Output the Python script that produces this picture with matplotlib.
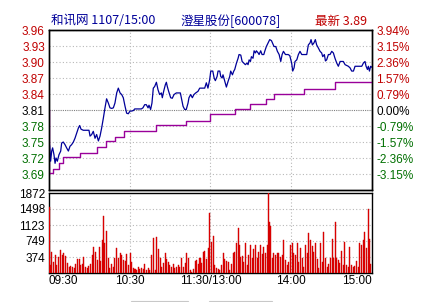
import matplotlib
matplotlib.use("Agg")
import matplotlib.pyplot as plt
from matplotlib.transforms import blended_transform_factory
from matplotlib.patches import Rectangle

# ---------------- data ----------------
prev_close = 3.81
last_price = 3.89
price_ticks = [3.69, 3.72, 3.75, 3.78, 3.81, 3.84, 3.87, 3.90, 3.93, 3.96]
pct_labels = ["-3.15%", "-2.36%", "-1.57%", "-0.79%", "0.00%", "0.79%", "1.57%", "2.36%", "3.15%", "3.94%"]
vol_ticks = [374, 749, 1123, 1498, 1872]
time_ticks = [0, 60, 120, 180, 240]
time_labels = ["09:30", "10:30", "11:30/13:00", "14:00", "15:00"]

price_minutes = [0, 0.5, 1.2, 2.0, 2.7, 3.7, 4.5, 5.2, 6.2, 7.4, 8.7, 9.4, 10.6, 11.9, 13.1, 14.4, 15.6,
                 16.8, 18.1, 19.3, 20.6, 21.8, 22.8, 23.8, 25.5, 28, 29.7, 30.5, 31.7, 32.9, 34.2, 35.4,
                 36.7, 37.9, 39.1, 40.4, 41.6, 42.8, 44.1, 45.3, 46.6, 47.8, 49, 50.3, 51.5, 52.8, 54,
                 55.2, 56.5, 57.7, 58.9, 60.2, 61.4, 62.7, 63.7, 66.1, 68.6, 69.8, 71.1, 72.3, 73.6, 74.3,
                 75.5, 76.5, 77.5, 78.5, 79.8, 81, 82.2, 83.5, 84.2, 85.2, 86.4, 87.2, 87.9, 88.9, 90.4,
                 91.6, 92.9, 94.6, 96.3, 97.6, 98.3, 99.6, 100.8, 102, 103.3, 104, 105.3, 106.5, 107.7,
                 109, 110.7, 112, 114.4, 115.7, 116.9, 118.1, 119.4, 120.2, 121.7, 122.7, 123.6, 124.9,
                 125.6, 126.9, 127.6, 128.6, 129.3, 130.6, 131.8, 133.1, 134.3, 135, 136.3, 137.3, 138,
                 139.3, 140.5, 141.2, 142.5, 143.5, 144.7, 145.9, 147.2, 147.9, 148.7, 149.7, 150.4,
                 151.6, 152.4, 153.4, 154.1, 155.4, 156.1, 157.3, 158.3, 159.6, 160.3, 161.5, 162.8,
                 164, 165.3, 166, 167.2, 168.5, 169.7, 171, 172.2, 173.2, 174.2, 175.7, 177.7, 178.9,
                 180.3, 181.1, 182.1, 182.8, 184.1, 185.3, 186.5, 187.8, 191.5, 192.7, 194, 194.7,
                 195.7, 196.9, 197.9, 198.9, 200.2, 201.4, 202.6, 203.4, 204.6, 205.4, 206.3, 207.6,
                 208.8, 210.1, 211.3, 212.5, 213.8, 215, 216.3, 218.7, 220, 222.4, 223.7, 224.9, 226.2,
                 227.4, 232.4, 233.6, 234.8, 235.6, 236.6, 237.3, 238.1, 239, 240]
price_values = [3.752, 3.742, 3.714, 3.733, 3.739, 3.726, 3.710, 3.720, 3.714, 3.726, 3.733, 3.748, 3.750,
                3.745, 3.739, 3.733, 3.742, 3.745, 3.750, 3.757, 3.767, 3.776, 3.781, 3.774, 3.772, 3.772,
                3.772, 3.761, 3.764, 3.770, 3.757, 3.764, 3.752, 3.761, 3.776, 3.795, 3.814, 3.831, 3.823,
                3.814, 3.813, 3.814, 3.823, 3.842, 3.851, 3.842, 3.839, 3.833, 3.817, 3.804, 3.803, 3.808,
                3.808, 3.809, 3.812, 3.812, 3.812, 3.814, 3.820, 3.820, 3.814, 3.819, 3.811, 3.823, 3.851,
                3.854, 3.862, 3.848, 3.839, 3.842, 3.833, 3.845, 3.857, 3.862, 3.854, 3.845, 3.833, 3.832,
                3.839, 3.842, 3.842, 3.842, 3.833, 3.817, 3.811, 3.811, 3.823, 3.833, 3.839, 3.833, 3.839,
                3.842, 3.845, 3.851, 3.851, 3.851, 3.861, 3.851, 3.867, 3.883, 3.883, 3.870, 3.865, 3.873,
                3.883, 3.883, 3.873, 3.870, 3.876, 3.864, 3.853, 3.864, 3.873, 3.883, 3.876, 3.883, 3.886,
                3.898, 3.907, 3.914, 3.913, 3.901, 3.898, 3.895, 3.898, 3.895, 3.904, 3.901, 3.910, 3.907,
                3.921, 3.917, 3.921, 3.917, 3.914, 3.921, 3.914, 3.914, 3.920, 3.929, 3.936, 3.942, 3.940,
                3.936, 3.929, 3.929, 3.920, 3.914, 3.901, 3.914, 3.920, 3.914, 3.914, 3.912, 3.898, 3.883,
                3.889, 3.901, 3.904, 3.914, 3.920, 3.914, 3.914, 3.932, 3.936, 3.942, 3.932, 3.936, 3.942,
                3.932, 3.926, 3.920, 3.917, 3.910, 3.914, 3.902, 3.904, 3.914, 3.914, 3.920, 3.917, 3.907,
                3.898, 3.892, 3.901, 3.901, 3.895, 3.892, 3.889, 3.883, 3.883, 3.892, 3.892, 3.898, 3.901,
                3.892, 3.886, 3.892, 3.883, 3.892, 3.890]

avg_minutes = [0, 0, 3.2, 7.5, 10.2, 23, 35.4, 42.3, 49, 55.7, 79.5, 101.8, 120, 138, 149, 161.3, 167,
               189.6, 212.5, 240]
avg_values = [3.81, 3.692, 3.700, 3.710, 3.721, 3.729, 3.740, 3.751, 3.760, 3.771, 3.781, 3.790, 3.802,
              3.811, 3.821, 3.830, 3.840, 3.850, 3.862, 3.862]

vol_minutes = [0.0, 1.2, 2.0, 3.2, 4.5, 5.7, 6.9, 8.9, 10.2, 11.1, 12.4, 13.6, 14.9, 16.1, 17.3, 18.6,
               19.8, 21.1, 22.3, 23.5, 24.8, 26.0, 27.3, 28.5, 29.7, 30.9, 32.2, 33.4, 34.7, 35.9, 37.2,
               38.4, 39.6, 40.6, 41.6, 42.9, 44.1, 45.3, 46.6, 47.8, 49.0, 50.3, 51.5, 52.8, 54.0, 55.2,
               56.5, 57.7, 58.9, 60.2, 61.4, 62.7, 63.9, 65.1, 66.4, 67.6, 68.9, 70.1, 71.3, 72.6, 73.8,
               75.0, 76.3, 77.5, 78.8, 80.0, 81.2, 82.5, 83.7, 84.9, 86.2, 87.4, 88.7, 89.9, 91.1, 92.4,
               93.6, 94.9, 96.1, 97.3, 98.6, 99.8, 101.1, 102.3, 103.5, 104.8, 106.0, 107.3, 108.5,
               109.7, 111.0, 112.2, 113.4, 114.7, 115.9, 117.2, 118.4, 119.6, 120.7, 121.9, 123.2, 124.4,
               125.6, 126.9, 128.1, 129.3, 130.6, 131.8, 133.1, 134.3, 135.5, 136.8, 138.0, 139.3, 140.5,
               141.4, 142.5, 143.5, 144.7, 145.9, 147.2, 148.4, 149.7, 150.9, 152.1, 153.4, 154.6, 155.9,
               157.1, 158.3, 159.6, 160.8, 162.0, 163.0, 163.8, 164.8, 165.8, 167.0, 168.2, 169.5, 170.7,
               172.0, 173.2, 174.4, 175.7, 176.9, 178.1, 179.4, 180.6, 181.9, 183.1, 184.3, 185.6, 186.8,
               188.1, 189.3, 190.5, 191.8, 193.0, 194.2, 195.5, 196.7, 198.0, 199.2, 200.4, 201.7, 202.9,
               204.2, 205.4, 206.6, 207.9, 209.1, 210.3, 211.6, 212.8, 213.8, 214.8, 216.0, 217.3, 218.5,
               219.8, 221.0, 222.2, 223.5, 224.7, 225.9, 227.2, 228.4, 229.7, 230.9, 232.1, 233.4, 234.6,
               235.9, 237.1, 238.1, 239.2]
vol_values = [1552, 187, 499, 265, 421, 187, 382, 538, 421, 460, 406, 226, 148, 164, 133, 109, 211, 320,
              320, 187, 211, 382, 148, 109, 164, 211, 421, 601, 499, 304, 616, 289, 772, 1334, 694, 991,
              343, 109, 211, 148, 343, 577, 343, 476, 421, 304, 289, 445, 187, 460, 265, 109, 86, 70, 133,
              86, 109, 86, 211, 70, 109, 70, 421, 811, 70, 835, 554, 343, 148, 226, 460, 320, 265, 187,
              148, 211, 109, 148, 187, 133, 343, 148, 242, 460, 343, 70, 31, 86, 289, 304, 211, 343, 242,
              499, 523, 320, 577, 1400, 733, 866, 187, 109, 86, 70, 187, 460, 320, 289, 265, 70, 211, 460,
              499, 694, 1045, 655, 382, 398, 265, 694, 187, 421, 655, 343, 554, 655, 343, 499, 655, 445,
              616, 460, 655, 1864, 1201, 1100, 343, 476, 421, 460, 476, 382, 421, 772, 304, 187, 265, 655,
              694, 460, 421, 694, 265, 577, 343, 133, 655, 460, 928, 772, 632, 499, 694, 320, 109, 694,
              265, 967, 343, 133, 211, 343, 788, 343, 1201, 343, 304, 242, 523, 187, 733, 187, 148, 601,
              187, 148, 164, 289, 148, 694, 655, 772, 967, 577, 1498, 788, 200]

# ---------------- style ----------------
W, H = 439, 302
fig = plt.figure(figsize=(W / 100, H / 100), dpi=100)
fig.patch.set_facecolor("white")

NUM_FONT = ["Liberation Sans", "DejaVu Sans"]
CJK_FONT = ["Noto Sans CJK SC", "DejaVu Sans"]
RED = "#c00000"
GREEN = "#006f00"
BLUE = "#000099"
GRID = "#b8b8b8"
dots = (0, (1, 2))

left, right = 49 / W, 372 / W
ax = fig.add_axes([left, 1 - 190 / H, right - left, 160 / H])
axv = fig.add_axes([left, 1 - 273 / H, right - left, 80 / H])

# price panel
ax.set_xlim(0, 240)
ax.set_ylim(3.66, 3.96)
for v in price_ticks:
    if abs(v - prev_close) < 1e-9:
        ax.axhline(v, color="#808080", lw=0.8, ls=(0, (1, 1)), zorder=1)
    else:
        ax.axhline(v, color=GRID, lw=0.8, ls=dots, zorder=1)
for t in time_ticks[1:-1]:
    ax.axvline(t, color=GRID, lw=0.8, ls=dots, zorder=1)
ax.plot(avg_minutes, avg_values, drawstyle="steps-post", color="#990099", lw=1.0, zorder=3)
ax.plot(price_minutes, price_values, color=BLUE, lw=0.9, zorder=4)

ax.set_xticks([])
ax.set_yticks(price_ticks)
ax.set_yticklabels([f"{v:.2f}" for v in price_ticks])
ax.tick_params(axis="y", length=0, pad=3)
for lab, v in zip(ax.get_yticklabels(), price_ticks):
    lab.set_fontfamily(NUM_FONT)
    lab.set_fontsize(8.5)
    if abs(v - prev_close) < 1e-9:
        lab.set_color("black")
    elif v > prev_close:
        lab.set_color(RED)
    else:
        lab.set_color(GREEN)

axr = ax.twinx()
axr.set_ylim(ax.get_ylim())
axr.set_yticks(price_ticks)
axr.set_yticklabels(pct_labels)
axr.tick_params(axis="y", length=0, pad=3)
for lab, v in zip(axr.get_yticklabels(), price_ticks):
    lab.set_fontfamily(NUM_FONT)
    lab.set_fontsize(8.5)
    if abs(v - prev_close) < 1e-9:
        lab.set_color("black")
    elif v > prev_close:
        lab.set_color(RED)
    else:
        lab.set_color(GREEN)

for a in (ax, axr):
    for s in a.spines.values():
        s.set_color("black")
        s.set_linewidth(1.0)

# volume panel
axv.set_xlim(0, 240)
axv.set_ylim(0, 1872)
for v in vol_ticks[:-1]:
    axv.axhline(v, color=GRID, lw=0.8, ls=dots, zorder=1)
for t in time_ticks[1:-1]:
    axv.axvline(t, color=GRID, lw=0.8, ls=dots, zorder=1)
axv.bar(vol_minutes, vol_values, width=0.75, color="#ee0000", edgecolor="#c00000",
        linewidth=0.3, align="center", zorder=3)
axv.set_yticks(vol_ticks)
axv.set_yticklabels([str(v) for v in vol_ticks])
axv.tick_params(axis="y", length=0, pad=3)
for lab in axv.get_yticklabels():
    lab.set_fontfamily(NUM_FONT)
    lab.set_fontsize(8.5)
    lab.set_color("black")
axv.set_xticks([])
for s in axv.spines.values():
    s.set_color("black")
    s.set_linewidth(1.0)

# time labels
tr = blended_transform_factory(axv.transData, fig.transFigure)
for t, lab in zip(time_ticks, time_labels):
    ha = "left" if t == time_ticks[0] else ("right" if t == time_ticks[-1] else "center")
    fig.text(t, 1 - 281 / H, lab, transform=tr, ha=ha, va="center",
             fontsize=8.5, family=NUM_FONT, color="black")

# header
ty = 1 - 21 / H
fig.text(51 / W, ty, "和讯网 1107/15:00", ha="left", va="center", fontsize=9,
         family=CJK_FONT, color=BLUE)
fig.text(180 / W, ty, "澄星股份[600078]", ha="left", va="center", fontsize=9,
         family=CJK_FONT, color=BLUE)
fig.text(315 / W, ty, f"最新 {last_price:.2f}", ha="left", va="center", fontsize=9,
         family=CJK_FONT, color=RED)

# bottom buttons (partially visible)
for x0, x1 in [(131, 188), (209, 272)]:
    fig.add_artist(Rectangle((x0 / W, -0.05), (x1 - x0) / W, 0.05 + 1.5 / H,
                             transform=fig.transFigure, fill=False, edgecolor="#c8c8c8", lw=0.8))

fig.savefig("out.png", dpi=100, facecolor="white")
